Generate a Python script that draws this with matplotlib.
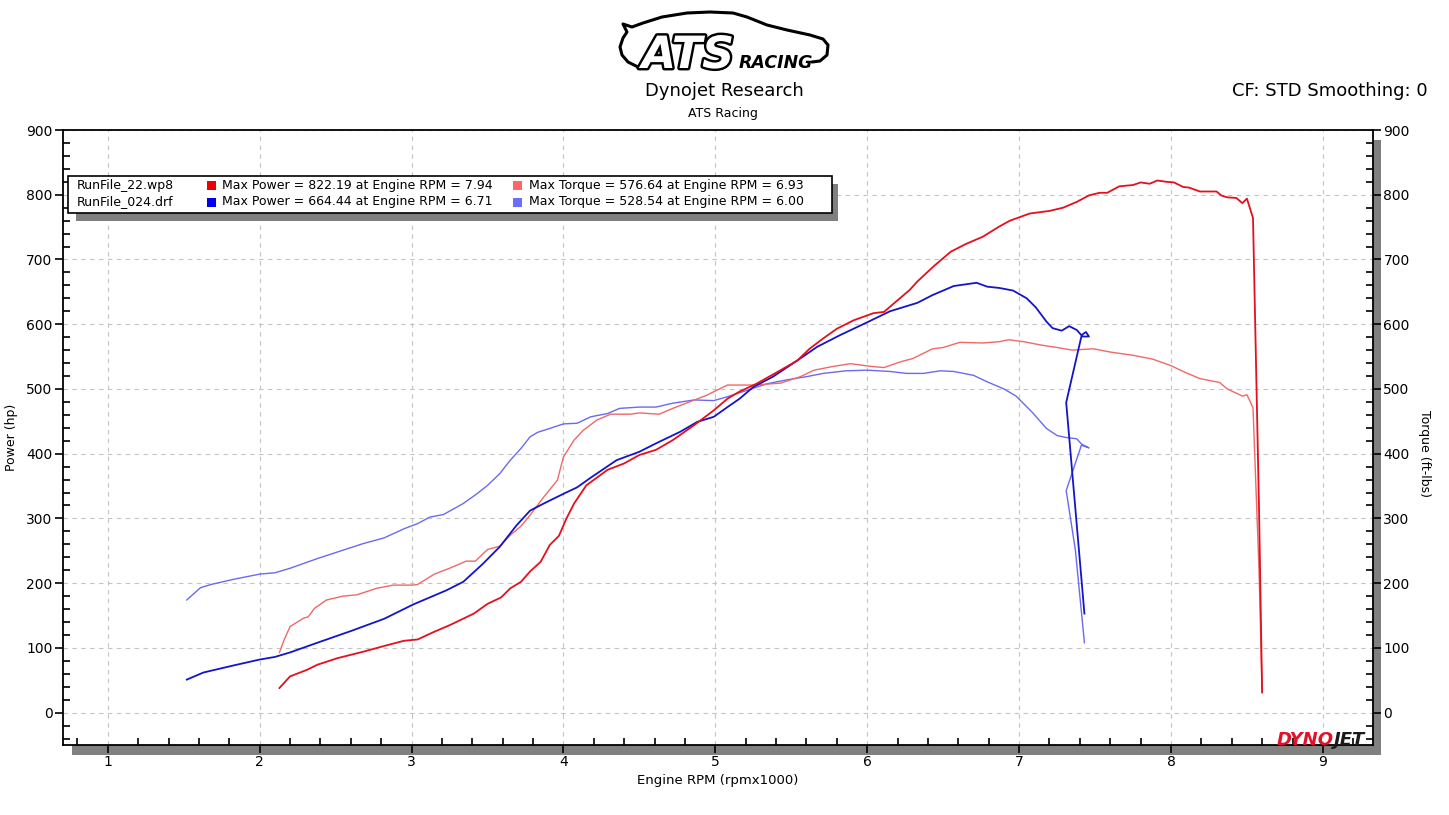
import numpy as np
import matplotlib
matplotlib.use("Agg")
import matplotlib.pyplot as plt
from matplotlib.ticker import MultipleLocator
from matplotlib.patches import Rectangle
import matplotlib.patheffects as pe

plt.rcParams['font.family'] = ['DejaVu Sans']

# run 024 (blue)
bp_rpm = [1.52, 1.63, 1.83, 2.00, 2.10, 2.20, 2.38, 2.60, 2.82, 3.01, 3.15, 3.23, 3.34, 3.47, 3.58,
          3.69, 3.78, 3.87, 4.00, 4.09, 4.18, 4.35, 4.50, 4.61, 4.77, 4.88, 4.99, 5.08, 5.16, 5.25,
          5.38, 5.54, 5.67, 5.82, 6.00, 6.15, 6.33, 6.43, 6.57, 6.72, 6.79, 6.87, 6.96, 7.05, 7.11,
          7.18, 7.22, 7.28, 7.33, 7.38, 7.41, 7.44, 7.46, 7.41, 7.31, 7.43]
bp_hp = [51, 62, 73, 82, 86, 93, 108, 126, 145, 167, 181, 189, 202, 230, 256,
         289, 312, 323, 338, 348, 363, 390, 403, 416, 434, 449, 457, 472, 485, 503,
         519, 544, 565, 583, 603, 620, 633, 645, 659, 664, 658, 656, 652, 640, 626,
         604, 594, 590, 597, 591, 583, 588, 581, 581, 479, 153]

bt_rpm = [1.52, 1.61, 1.68, 1.83, 2.00, 2.10, 2.20, 2.38, 2.51, 2.68, 2.82, 2.95, 3.04, 3.12, 3.21,
          3.34, 3.43, 3.50, 3.58, 3.65, 3.72, 3.78, 3.83, 3.91, 4.00, 4.09, 4.18, 4.29, 4.37, 4.50,
          4.61, 4.72, 4.86, 4.99, 5.08, 5.21, 5.34, 5.47, 5.60, 5.71, 5.86, 6.00, 6.15, 6.26, 6.37,
          6.48, 6.57, 6.70, 6.79, 6.90, 6.98, 7.09, 7.18, 7.25, 7.31, 7.38, 7.41, 7.46, 7.41, 7.31,
          7.37, 7.43]
bt_tq = [174, 193, 198, 206, 214, 216, 223, 238, 248, 261, 270, 284, 292, 302, 306,
         323, 338, 351, 369, 390, 408, 426, 433, 439, 446, 447, 457, 462, 470, 472,
         472, 478, 483, 482, 488, 498, 508, 514, 519, 524, 528, 529, 527, 524, 524,
         528, 527, 521, 511, 500, 489, 463, 439, 428, 425, 423, 415, 409, 413, 343,
         252, 108]

# run 22 (red)
rp_rpm = [2.13, 2.20, 2.31, 2.38, 2.51, 2.68, 2.82, 2.95, 3.04, 3.15, 3.25, 3.41, 3.50, 3.59, 3.65,
          3.72, 3.78, 3.85, 3.91, 3.97, 4.02, 4.07, 4.15, 4.29, 4.40, 4.50, 4.61, 4.72, 4.86, 4.99,
          5.08, 5.16, 5.27, 5.43, 5.54, 5.62, 5.71, 5.80, 5.91, 6.04, 6.11, 6.19, 6.28, 6.33, 6.44,
          6.55, 6.65, 6.76, 6.87, 6.94, 7.07, 7.20, 7.29, 7.38, 7.46, 7.53, 7.58, 7.66, 7.75, 7.80,
          7.86, 7.91, 7.97, 8.02, 8.08, 8.12, 8.19, 8.30, 8.33, 8.37, 8.43, 8.47, 8.50, 8.54, 8.58,
          8.60]
rp_hp = [38, 56, 66, 74, 84, 94, 103, 111, 113, 125, 135, 153, 168, 178, 192,
         202, 218, 233, 259, 273, 300, 323, 351, 375, 385, 398, 406, 421, 444, 467,
         485, 496, 508, 529, 544, 562, 578, 593, 606, 617, 619, 635, 653, 666, 690,
         712, 724, 735, 751, 760, 771, 775, 780, 789, 799, 803, 803, 813, 815, 819,
         817, 822, 820, 819, 812, 811, 805, 805, 799, 796, 795, 787, 794, 764, 310,
         32]

rt_rpm = [2.13, 2.16, 2.20, 2.29, 2.32, 2.36, 2.44, 2.55, 2.64, 2.77, 2.88, 3.01, 3.04, 3.15, 3.25,
          3.36, 3.42, 3.50, 3.58, 3.65, 3.72, 3.78, 3.87, 3.96, 4.00, 4.07, 4.13, 4.22, 4.31, 4.44,
          4.50, 4.63, 4.72, 4.83, 4.94, 5.08, 5.25, 5.43, 5.56, 5.65, 5.78, 5.89, 6.02, 6.11, 6.22,
          6.30, 6.43, 6.50, 6.61, 6.76, 6.87, 6.93, 7.03, 7.14, 7.25, 7.35, 7.49, 7.60, 7.75, 7.88,
          8.00, 8.08, 8.19, 8.32, 8.37, 8.47, 8.50, 8.54, 8.58, 8.60]
rt_tq = [93, 112, 133, 146, 148, 161, 174, 180, 182, 192, 197, 197, 198, 214, 223,
         234, 234, 252, 257, 274, 288, 305, 333, 359, 395, 421, 436, 452, 461, 461,
         463, 461, 470, 480, 490, 506, 506, 509, 519, 529, 535, 539, 535, 533, 542,
         547, 562, 564, 572, 571, 573, 576, 573, 568, 564, 560, 562, 557, 552, 546,
         536, 527, 516, 510, 500, 489, 491, 471, 217, 30]

run_names = ["RunFile_22.wp8", "RunFile_024.drf"]
power_text = ["Max Power = 822.19 at Engine RPM = 7.94", "Max Power = 664.44 at Engine RPM = 6.71"]
torque_text = ["Max Torque = 576.64 at Engine RPM = 6.93", "Max Torque = 528.54 at Engine RPM = 6.00"]

c_rp, c_rt = '#e3101e', '#f06868'
c_bp, c_bt = '#1414c8', '#6a6af0'

W, H = 1449, 815
fig = plt.figure(figsize=(W / 100, H / 100), dpi=100)

# background layer for the grey shadows
bg = fig.add_axes([0, 0, 1, 1], zorder=0)
bg.set_xlim(0, W)
bg.set_ylim(H, 0)
bg.axis('off')
bg.add_patch(Rectangle((72, 745), 1381 - 72, 9.5, color='#808080', lw=0))
bg.add_patch(Rectangle((1373, 140), 8, 614, color='#808080', lw=0))

L, R, T, B = 63, 1373, 130, 745
ax = fig.add_axes([L / W, (H - B) / H, (R - L) / W, (B - T) / H], zorder=1)
ax.plot(bt_rpm, bt_tq, color=c_bt, lw=1.0)
ax.plot(rt_rpm, rt_tq, color=c_rt, lw=1.0)
ax.plot(bp_rpm, bp_hp, color=c_bp, lw=1.3)
ax.plot(rp_rpm, rp_hp, color=c_rp, lw=1.3)

ax.set_xlim(0.705, 9.33)
ax.set_ylim(-50, 900)
ax.xaxis.set_major_locator(MultipleLocator(1))
ax.xaxis.set_minor_locator(MultipleLocator(0.2))
ax.yaxis.set_major_locator(MultipleLocator(100))
ax.yaxis.set_minor_locator(MultipleLocator(20))
ax.tick_params(which='major', direction='out', length=5.5, width=1.2, labelsize=10, pad=2)
ax.tick_params(which='minor', direction='in', length=5, width=1.2)
ax.tick_params(axis='y', which='both', left=True, right=True, labelleft=True, labelright=True)
for s in ax.spines.values():
    s.set_linewidth(1.3)
ax.grid(True, which='major', color='#c4c4c4', linestyle=(0, (4, 4)), linewidth=0.8)
ax.set_xlabel("Engine RPM (rpmx1000)", fontsize=9.5, labelpad=3)
ax.set_ylabel("Power (hp)", fontsize=9, labelpad=6)

# overlay layer for titles, legend and logos
ov = fig.add_axes([0, 0, 1, 1], zorder=3)
ov.set_xlim(0, W)
ov.set_ylim(H, 0)
ov.axis('off')
ov.patch.set_alpha(0)

ov.text(1425, 453, "Torque (ft-lbs)", rotation=270, ha='center', va='center', fontsize=9)
ov.text(724, 91, "Dynojet Research", ha='center', va='center', fontsize=13)
ov.text(723, 114, "ATS Racing", ha='center', va='center', fontsize=9)
ov.text(1428, 91, "CF: STD Smoothing: 0", ha='right', va='center', fontsize=13)

# legend box
ov.add_patch(Rectangle((76, 184), 762, 37, color='#808080', lw=0))
ov.add_patch(Rectangle((68, 176), 764, 37, facecolor='white', edgecolor='black', lw=1.2))
row_y = [185, 202]
pow_cols = ['#ee0000', '#0000ee']
tq_cols = ['#ff6666', '#6c6cff']
for i in range(2):
    y = row_y[i]
    ov.text(77, y, run_names[i], va='center', fontsize=9)
    ov.add_patch(Rectangle((207, y - 4.5), 9, 9, color=pow_cols[i], lw=0))
    ov.text(222, y, power_text[i], va='center', fontsize=9)
    ov.add_patch(Rectangle((513, y - 4.5), 9, 9, color=tq_cols[i], lw=0))
    ov.text(529, y, torque_text[i], va='center', fontsize=9)

# ATS Racing logo
car_x = [812, 820, 827, 828, 823, 810, 787, 767, 747, 733, 710, 687, 662, 643, 632, 623,
         627, 623, 620, 622, 628, 638]
car_y = [62, 61, 55, 45, 39, 35, 30, 25, 17, 13, 12, 13, 17, 23, 27, 24,
         32, 38, 47, 55, 62, 67]
ov.plot(car_x, car_y, color='black', lw=2.2, solid_capstyle='round', solid_joinstyle='round')
ats = ov.text(688, 68, "ATS", ha='center', va='baseline', fontsize=32, fontweight='bold',
              fontstyle='italic', color='white')
ats.set_path_effects([pe.Stroke(linewidth=3.5, foreground='black'), pe.Normal()])
ov.text(776, 68, "RACING", ha='center', va='baseline', fontsize=12.5, fontweight='bold',
        fontstyle='italic', color='black')

# Dynojet logo
ov.text(1334, 745, "DYNO", ha='right', va='baseline', fontsize=13, fontweight='bold',
        fontstyle='italic', color='#e3102a')
ov.text(1334, 745, "JET", ha='left', va='baseline', fontsize=13, fontweight='bold',
        fontstyle='italic', color='#1a1a1a')

fig.savefig("out.png", dpi=100)
